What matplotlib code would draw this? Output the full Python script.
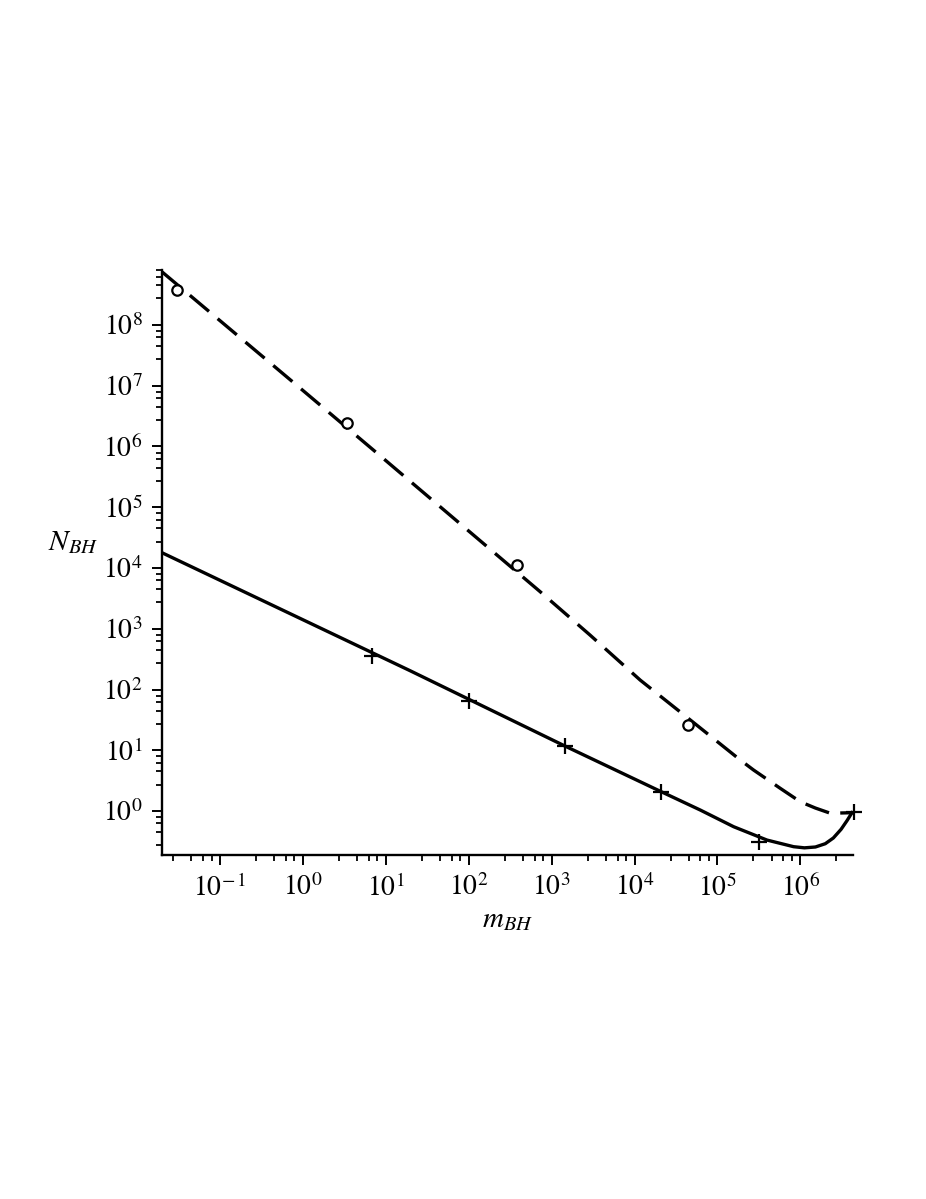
import numpy as np
import matplotlib
matplotlib.use("Agg")
import matplotlib.pyplot as plt
from matplotlib.ticker import FixedLocator, FuncFormatter, NullFormatter

plt.rcParams['mathtext.fontset'] = 'stix'
plt.rcParams['font.family'] = 'STIXGeneral'

# dashed curve
m_dash = [0.02, 0.92, 7.8, 727, 2900, 1.17e4, 4.71e4, 1.89e5, 2.73e5, 5.74e5,
          1.0e6, 1.52e6, 2.3e6, 4.37e6]
n_dash = [7.45e8, 9.18e6, 7.8e5, 4.07e3, 789, 143, 31.5, 6.9, 4.73, 2.36,
          1.42, 1.12, 0.92, 0.94]
m_circ = [0.0299, 3.37, 386, 4.41e4]
n_circ = [3.77e8, 2.46e6, 1.12e4, 26]

# solid curve
m_solid = [0.02, 19.6, 1456, 2.1e4, 6.2e4, 1.57e5, 3.96e5, 8.3e5,
           1.12e6, 1.52e6, 2.0e6, 2.5e6, 3.1e6, 3.67e6, 4.2e6]
n_solid = [1.78e4, 204, 11.7, 2.08, 1.04, 0.552, 0.333, 0.259,
           0.248, 0.256, 0.29, 0.36, 0.5, 0.7, 0.94]
m_plus = [6.87, 102, 1455, 2.1e4, 3.14e5, 4.4e6]
n_plus = [355, 65.5, 11.7, 2.08, 0.31, 0.95]

x_major = [-1, 0, 1, 2, 3, 4, 5, 6]
y_major = [0, 1, 2, 3, 4, 5, 6, 7, 8]
minor_frac = [0.435, 0.653, 0.795, 0.898]

fig = plt.figure(figsize=(9.26, 11.99), dpi=100)
ax = fig.add_axes([0.175, 0.2869, 0.746, 0.4879])

ax.plot(m_dash, n_dash, color='black', lw=2.4, ls=(0, (7.5, 3.4)))
ax.plot(m_circ, n_circ, ls='none', marker='o', ms=7.5, mfc='white', mec='black', mew=1.6)
ax.plot(m_solid, n_solid, color='black', lw=2.4)
ax.plot(m_plus, n_plus, ls='none', marker='+', ms=12, mec='black', mew=1.6, clip_on=False)

ax.set_xscale('log')
ax.set_yscale('log')
ax.set_xlim(0.02, 4.3e6)
ax.set_ylim(0.189, 8.0e8)

def fmt(v, pos):
    e = int(round(np.log10(v)))
    if e < 0:
        return r'$10^{-\,%d}$' % (-e)
    return r'$10^{%d}$' % e

ax.xaxis.set_major_locator(FixedLocator([10.0 ** e for e in x_major]))
ax.yaxis.set_major_locator(FixedLocator([10.0 ** e for e in y_major]))
ax.xaxis.set_major_formatter(FuncFormatter(fmt))
ax.yaxis.set_major_formatter(FuncFormatter(fmt))
ax.xaxis.set_minor_locator(FixedLocator([10.0 ** (k + f) for k in range(-2, 7) for f in minor_frac]))
ax.yaxis.set_minor_locator(FixedLocator([10.0 ** (k + f) for k in range(-1, 9) for f in minor_frac]))
ax.xaxis.set_minor_formatter(NullFormatter())
ax.yaxis.set_minor_formatter(NullFormatter())

for s in ['top', 'right']:
    ax.spines[s].set_visible(False)
for s in ['left', 'bottom']:
    ax.spines[s].set_linewidth(1.7)

ax.tick_params(which='major', direction='out', length=7, width=1.4, labelsize=20, pad=7)
ax.tick_params(which='minor', direction='out', length=4.5, width=1.3)

ax.set_xlabel(r'$m_{BH}$', fontsize=21, labelpad=4)
fig.text(0.079, 0.547, r'$N_{BH}$', fontsize=21, ha='center', va='center')

fig.savefig('out.png', dpi=100)
